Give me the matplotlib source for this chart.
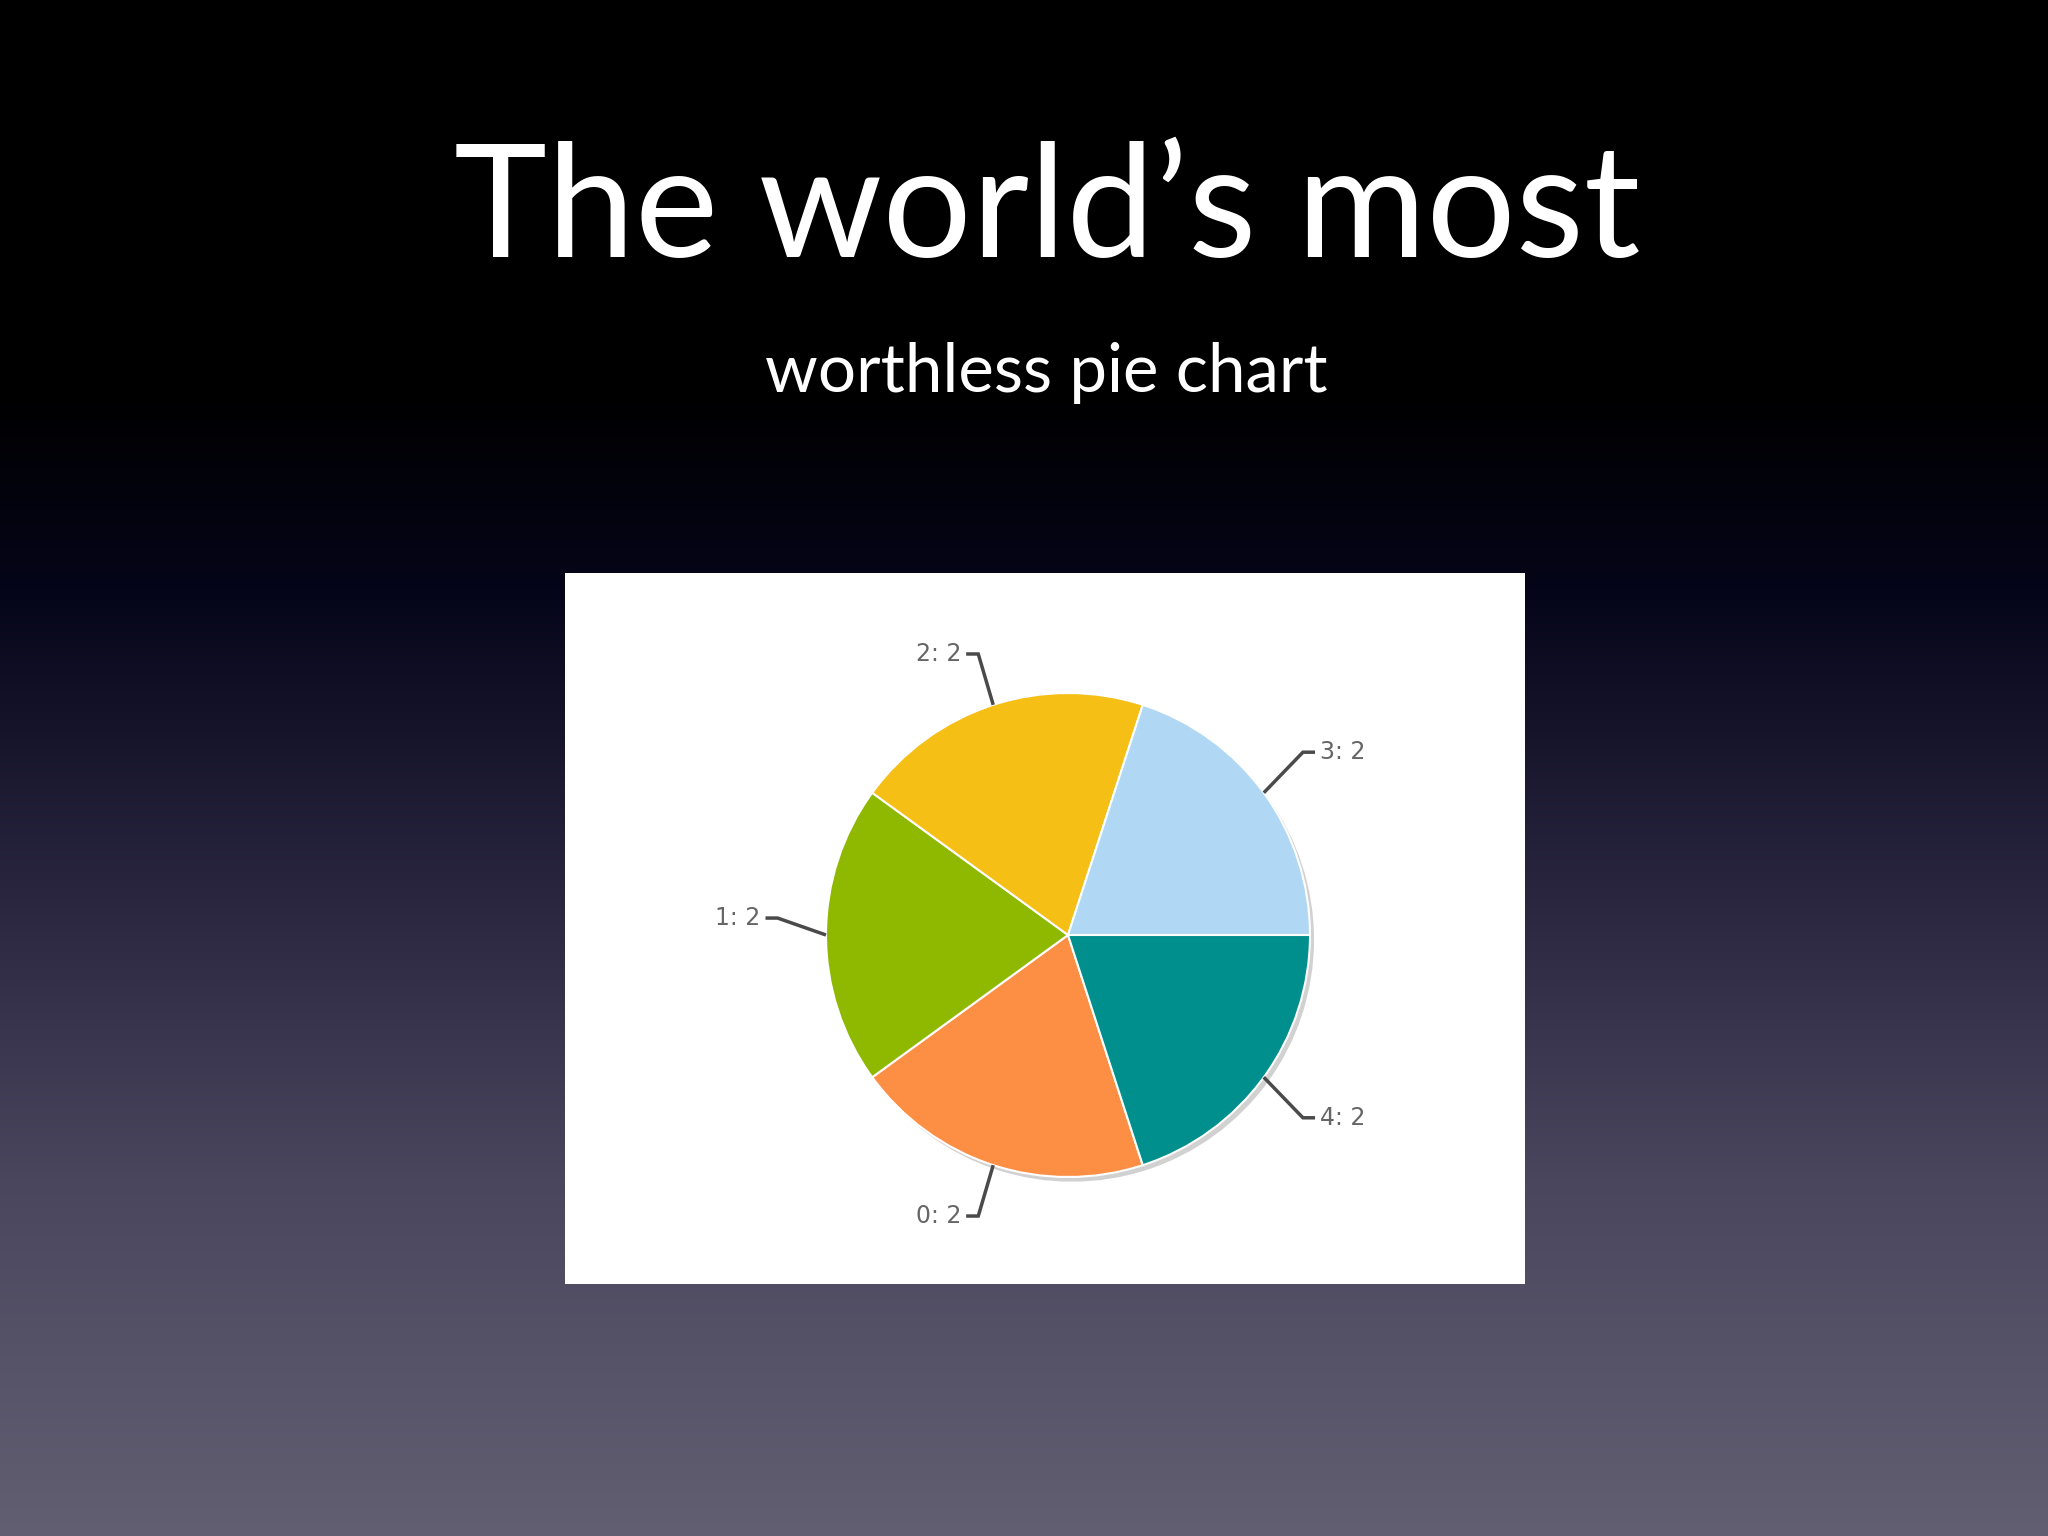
import numpy as np
import matplotlib
matplotlib.use("Agg")
import matplotlib.pyplot as plt
from matplotlib.patches import Rectangle

# ---- data ----
categories = ["0", "1", "2", "3", "4"]
values = [2, 2, 2, 2, 2]
colors = ["#fd8f45", "#8fb800", "#f5bf15", "#b0d8f5", "#008f8c"]
title = "The world\u2019s most"
subtitle = "worthless pie chart"

W, H = 2048, 1536
fig = plt.figure(figsize=(W / 100, H / 100), dpi=100)

# ---- background gradient ----
bg = fig.add_axes([0, 0, 1, 1])
stops_y = [0, 390, 590, 880, 1180, 1536]
stops_c = np.array([[0, 0, 0], [0, 0, 0], [5, 5, 25], [40, 36, 62], [74, 70, 94], [98, 95, 114]]) / 255.0
rows = np.arange(H)
grad = np.stack([np.interp(rows, stops_y, stops_c[:, k]) for k in range(3)], axis=1)
img = np.repeat(grad[:, None, :], 4, axis=1)
bg.imshow(img, aspect="auto", extent=[0, W, H, 0])
bg.set_xlim(0, W)
bg.set_ylim(H, 0)
bg.axis("off")

# white chart box
bg.add_patch(Rectangle((565, 573), 960, 711, facecolor="white", edgecolor="none", zorder=2))

# ---- titles ----
fig.canvas.draw()
renderer = fig.canvas.get_renderer()

def fitted_text(s, x, y_base, target_w, family):
    t = fig.text(x / W, 1 - y_base / H, s, color="white", ha="center", va="baseline",
                 fontsize=100, family=family)
    w = t.get_window_extent(renderer).width
    t.set_fontsize(100 * target_w / w)
    return t

fitted_text(title, 1047, 257, 1186, "Lato")
fitted_text(subtitle, 1046, 392, 562, "Lato")

# ---- pie ----
R_PX = 242
cx, cy = 1068, 935
L = 1.5
side = 2 * L * R_PX
ax = fig.add_axes([(cx - side / 2) / W, (H - cy - side / 2) / H, side / W, side / H])

wedges, _ = ax.pie(values, colors=colors, startangle=288, counterclock=False, radius=1,
                   wedgeprops=dict(edgecolor="white", linewidth=1.5),
                   shadow=dict(ox=0.012, oy=-0.014, facecolor="#9a9a9a", edgecolor="none", alpha=0.45))
ax.set_xlim(-L, L)
ax.set_ylim(-L, L)
ax.set_aspect("equal")
ax.axis("off")

for w, cat, val in zip(wedges, categories, values):
    mid = np.deg2rad((w.theta1 + w.theta2) / 2)
    x0, y0 = np.cos(mid), np.sin(mid)
    x1, y1 = 1.2 * np.cos(mid), 1.2 * np.sin(mid)
    side_sign = 1 if x1 >= 0 else -1
    if abs(y0) < 0.2:
        y1 += 0.07
    elif abs(y0) < 0.9:
        y1 += 0.05 * np.sign(y0)
    else:
        y1 += 0.02 * np.sign(y0)
    x2 = x1 + side_sign * 0.05
    ax.plot([x0, x1, x2], [y0, y1, y1], color="#4a4a4a", lw=2.5, solid_joinstyle="miter",
            solid_capstyle="butt", zorder=5)
    ax.text(x2 + side_sign * 0.02, y1, f"{cat}: {val}", ha="left" if side_sign > 0 else "right",
            va="center", fontsize=17, color="#666666", family="DejaVu Sans")

fig.savefig("out.png", dpi=100)
